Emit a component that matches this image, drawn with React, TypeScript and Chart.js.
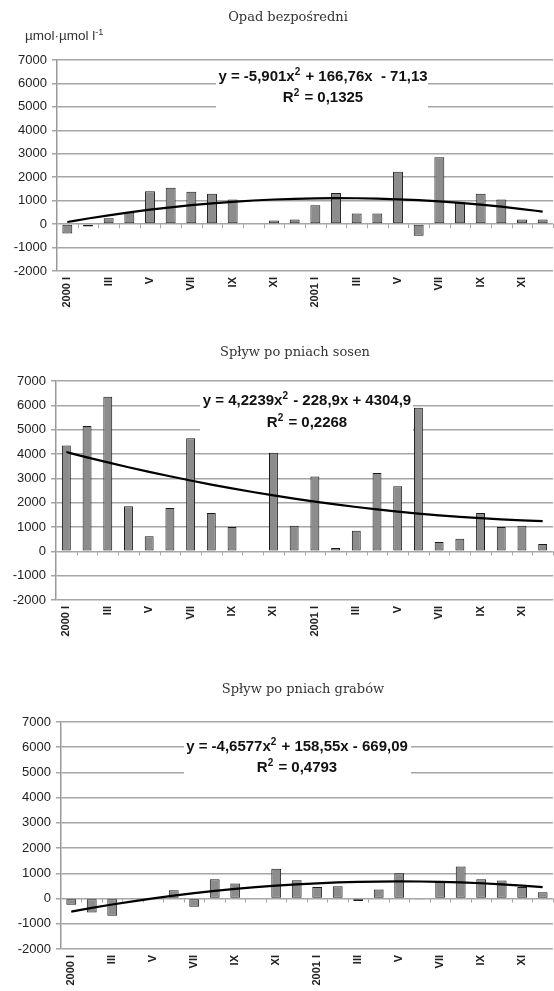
import React, { useEffect, useRef } from 'react';
import { Chart, registerables } from 'chart.js';

Chart.register(...registerables);

// ---------- data ----------
const categories = [
  '2000 I', '2000 II', '2000 III', '2000 IV', '2000 V', '2000 VI',
  '2000 VII', '2000 VIII', '2000 IX', '2000 X', '2000 XI', '2000 XII',
  '2001 I', '2001 II', '2001 III', '2001 IV', '2001 V', '2001 VI',
  '2001 VII', '2001 VIII', '2001 IX', '2001 X', '2001 XI', '2001 XII',
];
const tickLabels = [
  '2000 I', '', 'III', '', 'V', '', 'VII', '', 'IX', '', 'XI', '',
  '2001 I', '', 'III', '', 'V', '', 'VII', '', 'IX', '', 'XI', '',
];
const yMin = -2000;
const yMax = 7000;
const yStep = 1000;

const opadValues = [-400, -100, 250, 500, 1400, 1550, 1380, 1300, 1050, null, 150, 200,
  800, 1330, 450, 450, 2230, -500, 2850, 950, 1300, 1050, 200, 200];
const opadTrend = [90, 239, 376, 501, 615, 717, 807, 885, 952, 1006, 1049, 1080,
  1099, 1107, 1103, 1086, 1058, 1019, 967, 904, 828, 742, 643, 532];

const sosnyValues = [4350, 5150, 6350, 1850, 620, 1780, 4650, 1575, 1000, null, 4050, 1050,
  3080, 140, 850, 3220, 2670, 5900, 380, 520, 1575, 1000, 1050, 300];
const sosnyTrend = [4080, 3864, 3656, 3457, 3266, 3084, 2910, 2744, 2587, 2438, 2298, 2166,
  2043, 1928, 1822, 1724, 1634, 1553, 1481, 1417, 1361, 1314, 1275, 1244];

const grabyValues = [-250, -550, -680, null, null, 330, -320, 770, 600, null, 1180, 730,
  460, 490, -100, 360, 1000, -40, 660, 1270, 770, 720, 460, 250];
const grabyTrend = [-515, -371, -235, -109, 7, 115, 213, 301, 381, 451, 511, 563,
  605, 638, 661, 675, 680, 676, 662, 639, 606, 565, 514, 453];

const titles = ['Opad bezpośredni', 'Spływ po pniach sosen', 'Spływ po pniach grabów'];
const unitLabel = 'µmol·µmol l';
const eqLine1 = [
  [{ t: 'y = -5,901x' }, { t: '2', sup: true }, { t: ' + 166,76x  - 71,13' }],
  [{ t: 'y = 4,2239x' }, { t: '2', sup: true }, { t: ' - 228,9x + 4304,9' }],
  [{ t: 'y = -4,6577x' }, { t: '2', sup: true }, { t: ' + 158,55x - 669,09' }],
];
const eqLine2 = [
  [{ t: 'R' }, { t: '2', sup: true }, { t: ' = 0,1325' }],
  [{ t: 'R' }, { t: '2', sup: true }, { t: ' = 0,2268' }],
  [{ t: 'R' }, { t: '2', sup: true }, { t: ' = 0,4793' }],
];

// ---------- styling ----------
const SANS = '"Liberation Sans", Arial, sans-serif';
const GRID = '#a6a6a6';

type Part = { t: string; sup?: boolean };

const zeroTicksPlugin = {
  id: 'zeroTicks',
  beforeDatasetsDraw(chart: any) {
    const x = chart.scales.x;
    const y = chart.scales.y;
    const ctx = chart.ctx;
    const y0 = y.getPixelForValue(0);
    const n = chart.data.labels.length;
    const w = (x.right - x.left) / n;
    ctx.save();
    ctx.strokeStyle = GRID;
    ctx.lineWidth = 1;
    for (let i = 1; i <= n; i++) {
      const px = Math.round(x.left + i * w) + 0.5;
      ctx.beginPath();
      ctx.moveTo(px, y0);
      ctx.lineTo(px, y0 + 4);
      ctx.stroke();
    }
    ctx.restore();
  },
};

function drawParts(ctx: CanvasRenderingContext2D, parts: Part[], cx: number, cy: number) {
  const big = 'bold 15px ' + SANS;
  const small = 'bold 10px ' + SANS;
  let total = 0;
  const widths = parts.map((p) => {
    ctx.font = p.sup ? small : big;
    const w = ctx.measureText(p.t).width + (p.sup ? 1 : 0);
    total += w;
    return w;
  });
  let x = cx - total / 2;
  ctx.textAlign = 'left';
  ctx.textBaseline = 'middle';
  parts.forEach((p, i) => {
    ctx.font = p.sup ? small : big;
    ctx.fillText(p.t, x, p.sup ? cy - 5 : cy);
    x += widths[i];
  });
}

const equationPlugin = {
  id: 'equation',
  beforeDatasetsDraw(chart: any, _args: any, opts: any) {
    if (!opts || !opts.line1) return;
    const y = chart.scales.y;
    const ctx = chart.ctx;
    const top = y.getPixelForValue(opts.boxTop);
    const bottom = y.getPixelForValue(opts.boxBottom);
    ctx.save();
    ctx.fillStyle = '#ffffff';
    ctx.fillRect(opts.boxLeft, top, opts.boxRight - opts.boxLeft, bottom - top);
    ctx.restore();
  },
  afterDraw(chart: any, _args: any, opts: any) {
    if (!opts || !opts.line1) return;
    const y = chart.scales.y;
    const ctx = chart.ctx;
    ctx.save();
    ctx.fillStyle = '#111111';
    drawParts(ctx, opts.line1, opts.cx, y.getPixelForValue(opts.v1));
    drawParts(ctx, opts.line2, opts.cx, y.getPixelForValue(opts.v2));
    ctx.restore();
  },
};

type PanelCfg = {
  values: (number | null)[];
  trend: number[];
  padTop: number;
  xH: number;
  yW: number;
  barPct: number;
  eq: any;
};

function buildChart(canvas: HTMLCanvasElement, cfg: PanelCfg) {
  return new Chart(canvas, {
    type: 'bar',
    data: {
      labels: categories,
      datasets: [
        {
          type: 'line',
          data: cfg.trend,
          borderColor: '#000000',
          borderWidth: 2.2,
          pointRadius: 0,
          cubicInterpolationMode: 'monotone',
          order: 0,
        } as any,
        {
          type: 'bar',
          data: cfg.values,
          backgroundColor: '#8c8c8c',
          borderColor: '#1a1a1a',
          borderWidth: 1,
          borderSkipped: false,
          categoryPercentage: 1,
          barPercentage: cfg.barPct,
          order: 1,
        } as any,
      ],
    },
    options: {
      responsive: false,
      animation: false,
      devicePixelRatio: 1,
      events: [],
      layout: { padding: { top: cfg.padTop, right: 6, bottom: 0, left: 0 } },
      plugins: {
        legend: { display: false },
        tooltip: { enabled: false },
        title: { display: false },
        equation: cfg.eq,
      } as any,
      scales: {
        x: {
          type: 'category',
          offset: true,
          grid: { display: false, drawTicks: false },
          border: { display: false },
          ticks: {
            autoSkip: false,
            minRotation: 90,
            maxRotation: 90,
            padding: 6,
            color: '#222222',
            font: { family: SANS, size: 11, weight: 'bold' },
            callback: (_v: any, i: number) => tickLabels[i],
          },
          afterFit: (s: any) => {
            s.height = cfg.xH;
          },
        },
        y: {
          min: yMin,
          max: yMax,
          ticks: {
            stepSize: yStep,
            padding: 5,
            color: '#222222',
            font: { family: SANS, size: 13 },
            callback: (v: any) => String(v),
          },
          grid: { color: GRID, lineWidth: 1.5, tickLength: 5, drawTicks: true },
          border: { display: true, color: '#999999', width: 1.5 },
          afterFit: (s: any) => {
            s.width = cfg.yW;
          },
        },
      } as any,
    },
    plugins: [zeroTicksPlugin, equationPlugin],
  });
}

const panels: PanelCfg[] = [
  {
    values: opadValues, trend: opadTrend, padTop: 60, xH: 49, yW: 57, barPct: 0.48,
    eq: { line1: eqLine1[0], line2: eqLine2[0], cx: 323, v1: 6280, v2: 5380, boxLeft: 216, boxRight: 428, boxTop: 6650, boxBottom: 4900 },
  },
  {
    values: sosnyValues, trend: sosnyTrend, padTop: 51, xH: 50, yW: 56, barPct: 0.43,
    eq: { line1: eqLine1[1], line2: eqLine2[1], cx: 307, v1: 6180, v2: 5270, boxLeft: 200, boxRight: 413, boxTop: 6550, boxBottom: 4860 },
  },
  {
    values: grabyValues, trend: grabyTrend, padTop: 42, xH: 42, yW: 61, barPct: 0.48,
    eq: { line1: eqLine1[2], line2: eqLine2[2], cx: 297, v1: 6010, v2: 5180, boxLeft: 184, boxRight: 411, boxTop: 6370, boxBottom: 4780 },
  },
];

const canvasTops = [0, 330, 680];
const canvasHeights = [320, 320, 311];
const titleCenters = [
  { x: 288, y: 17 },
  { x: 295, y: 352 },
  { x: 303, y: 689 },
];

export default function App() {
  const r1 = useRef<HTMLCanvasElement>(null);
  const r2 = useRef<HTMLCanvasElement>(null);
  const r3 = useRef<HTMLCanvasElement>(null);

  useEffect(() => {
    const refs = [r1, r2, r3];
    const charts = refs.map((r, i) => buildChart(r.current as HTMLCanvasElement, panels[i]));
    return () => charts.forEach((c) => c.destroy());
  }, []);

  const refs = [r1, r2, r3];
  return (
    <div style={{ position: 'absolute', left: 0, top: 0, width: 554, height: 991, overflow: 'hidden', background: '#ffffff' }}>
      {refs.map((r, i) => (
        <canvas
          key={i}
          ref={r}
          width={562}
          height={canvasHeights[i]}
          style={{ position: 'absolute', left: 0, top: canvasTops[i], width: 562, height: canvasHeights[i] }}
        />
      ))}
      {titles.map((t, i) => (
        <div
          key={'t' + i}
          style={{
            position: 'absolute', left: titleCenters[i].x - 150, top: titleCenters[i].y - 8, width: 300,
            textAlign: 'center', fontFamily: '"DejaVu Serif", serif', fontSize: 13, lineHeight: '16px', color: '#333333',
            whiteSpace: 'nowrap',
          }}
        >
          {t}
        </div>
      ))}
      <div
        style={{
          position: 'absolute', left: 25, top: 28, fontFamily: SANS, fontSize: 13.5, lineHeight: '16px',
          color: '#333333', whiteSpace: 'nowrap',
        }}
      >
        {unitLabel}
        <span style={{ fontSize: 9, position: 'relative', top: -5 }}>-1</span>
      </div>
    </div>
  );
}
